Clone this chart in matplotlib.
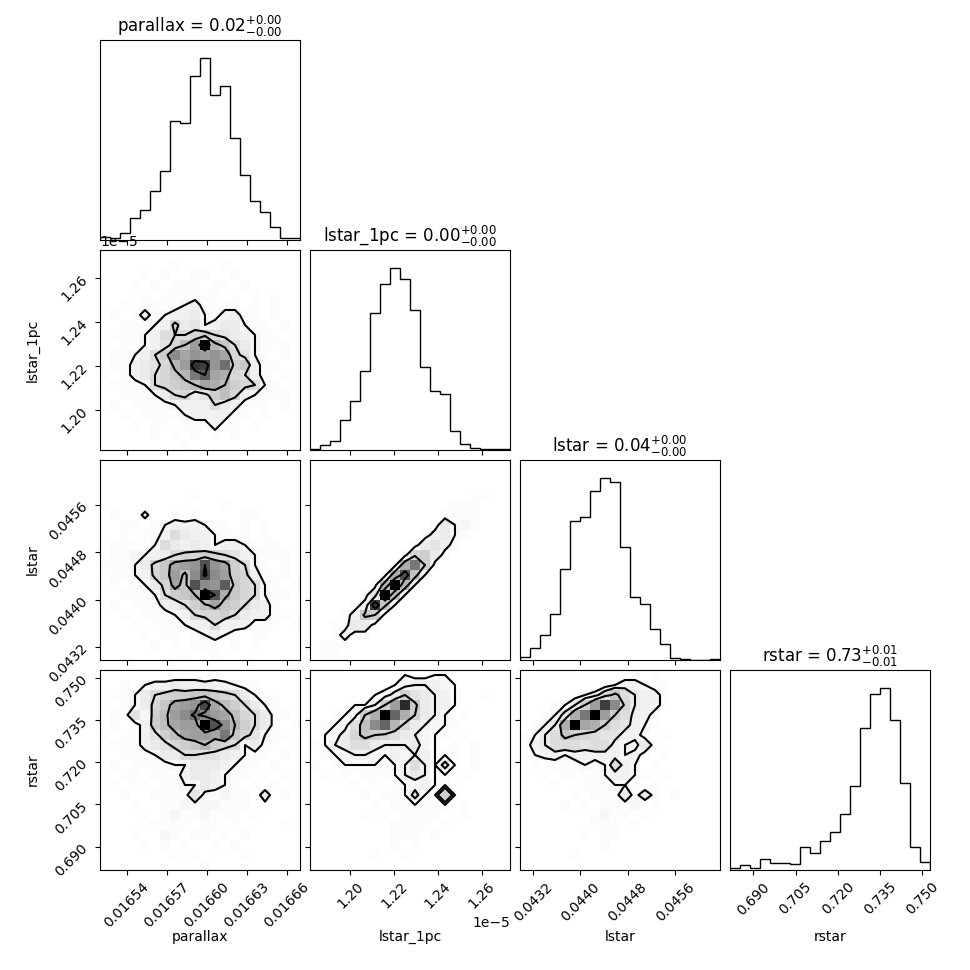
import numpy as np
import matplotlib
matplotlib.use("Agg")
import matplotlib.pyplot as plt
from matplotlib.colors import LinearSegmentedColormap, PowerNorm
from matplotlib.ticker import FixedLocator, ScalarFormatter, NullLocator

# ---------------- data ----------------
labels = ["parallax", "lstar_1pc", "lstar", "rstar"]
titles = [r"parallax = $0.02^{+0.00}_{-0.00}$",
          r"lstar_1pc = $0.00^{+0.00}_{-0.00}$",
          r"lstar = $0.04^{+0.00}_{-0.00}$",
          r"rstar = $0.73^{+0.01}_{-0.01}$"]

range_parallax = [0.01652, 0.01667]
range_lstar_1pc = [1.1817e-5, 1.2729e-5]
range_lstar = [0.04298, 0.04636]
range_rstar = [0.68172, 0.75273]

ticks_parallax = [0.01654, 0.01657, 0.01660, 0.01663, 0.01666]
ticks_lstar_1pc = [1.20e-5, 1.22e-5, 1.24e-5, 1.26e-5]
ticks_lstar = [0.0432, 0.0440, 0.0448, 0.0456]
ticks_rstar = [0.690, 0.705, 0.720, 0.735, 0.750]

# 1D histogram counts (20 bins over the axis range)
hist_parallax = [10, 5, 22, 65, 90, 147, 207, 357, 352, 492, 545, 435, 462, 305, 195, 117, 83, 38, 7, 7]
hist_lstar_1pc = [2, 15, 28, 90, 147, 238, 410, 497, 545, 512, 420, 250, 178, 168, 57, 18, 7, 2, 2, 2]
hist_lstar = [10, 35, 75, 137, 273, 418, 428, 507, 545, 535, 338, 190, 168, 93, 47, 7, 2, 1, 1, 2]
hist_rstar = [5, 14, 5, 32, 20, 20, 17, 68, 50, 86, 113, 167, 252, 425, 528, 545, 450, 260, 68, 25]

# 2D histogram counts (base-36 digits, 0..30), rows from top (high y) to bottom, columns left to right
grid_lstar_1pc_vs_parallax = [
    "00000000000000000000",
    "00000001000010000000",
    "00001010011001000000",
    "00010101110110100000",
    "00001011111101010100",
    "00101111231111010100",
    "01013123342133110100",
    "00111237452344211010",
    "01112366678654321100",
    "00112357aeub96421110",
    "0112368gdfefd7521010",
    "0113457bepofj8931100",
    "10134679bildc7631010",
    "011126789adca8762100",
    "001112467458a7321110",
    "01011112333643111010",
    "00101111233331101000",
    "00010110111311010000",
    "00000101010101000000",
    "00000000100000000000",
]

grid_lstar_vs_parallax = [
    "00000000000000000000",
    "00000000000000000000",
    "00000000000000000000",
    "00000000010000000000",
    "00000000000010000000",
    "01003001010000110000",
    "00110123332110101000",
    "00101136433211101000",
    "01111264343233211100",
    "01122346778765321110",
    "1112479defmfd8621010",
    "0112379eagnge8731110",
    "0101247d9mgfl9762101",
    "001112689bumc9762110",
    "0101113468ad98643100",
    "00101112367786433110",
    "00010111233633311101",
    "00001011012321011000",
    "00000101011101010000",
    "00000000100100000000",
]

grid_lstar_vs_lstar_1pc = [
    "00000000000000000000",
    "00000000000000000000",
    "00000000000000000000",
    "00000000000000001100",
    "00000000000000111000",
    "00000000000001111000",
    "00000000000014221000",
    "00000000000134210000",
    "00000000001453100000",
    "00000000017841000000",
    "000000001ci810000000",
    "00000001cma200000000",
    "0000001bub2000000000",
    "0000015ua20000000000",
    "000013o9200000000000",
    "00013981000000000000",
    "00114410000000000000",
    "00131100000000000000",
    "01110000000000000000",
    "01100000000000000000",
]

grid_rstar_vs_parallax = [
    "00000000110100000000",
    "00102334333332110000",
    "01124678899876421100",
    "0012479defnda8642100",
    "011528aegjgeda764110",
    "010138adeeumgb864101",
    "1011358adeedi9752110",
    "0111345789b876241100",
    "00111244665543211010",
    "01011112244432110100",
    "00110111344321101010",
    "01011011224321010100",
    "00100111151121104010",
    "00010011212211101000",
    "00001012112111010000",
    "00000111101101000010",
    "00010021011010100000",
    "00001010100101000000",
    "00000001010000100000",
    "00000000001000000000",
]

grid_rstar_vs_lstar_1pc = [
    "00000000010011000000",
    "00000000123332100000",
    "00000012485433100100",
    "00001138eq9433100000",
    "001128cukc8431010000",
    "01126agkb74321100000",
    "01247987643211010000",
    "11346643334210101000",
    "01123321323311101000",
    "10111111136314101000",
    "01010111134311010000",
    "00001010112311000000",
    "00000101114118100000",
    "00000010111111010000",
    "00000101011110010000",
    "00000000111101000000",
    "00000000111010000000",
    "00000000101000000000",
    "00000010010000000000",
    "00000000000000000000",
]

grid_rstar_vs_lstar = [
    "00000000001101000000",
    "00000000123321100000",
    "00000123696433100000",
    "0001248eog7433100000",
    "00125ciue86331000000",
    "0124cudc865321000000",
    "12469876553310100000",
    "13466656632141000000",
    "12332333332310100000",
    "01011121263201000000",
    "00101111233210100000",
    "00010011122101000000",
    "00000101114141010000",
    "00001010111201000000",
    "00000001211010000000",
    "00000001110100000000",
    "00000010110000000000",
    "00000000100000000000",
    "00000100000000000000",
    "00000000000000000000",
]

ranges = [range_parallax, range_lstar_1pc, range_lstar, range_rstar]
ticks = [ticks_parallax, ticks_lstar_1pc, ticks_lstar, ticks_rstar]
hists = [hist_parallax, hist_lstar_1pc, hist_lstar, hist_rstar]
grids = {
    (1, 0): grid_lstar_1pc_vs_parallax,
    (2, 0): grid_lstar_vs_parallax,
    (2, 1): grid_lstar_vs_lstar_1pc,
    (3, 0): grid_rstar_vs_parallax,
    (3, 1): grid_rstar_vs_lstar_1pc,
    (3, 2): grid_rstar_vs_lstar,
}

# ---------------- drawing ----------------
K = 4
nbins = 20
factor = 2.0
lbdim = 0.5 * factor
trdim = 0.2 * factor
whspace = 0.05
plotdim = factor * K + factor * (K - 1.0) * whspace
dim = lbdim + plotdim + trdim

fig, axes = plt.subplots(K, K, figsize=(dim, dim), dpi=100)
lb = lbdim / dim
tr = (lbdim + plotdim) / dim
fig.subplots_adjust(left=lb, bottom=lb, right=tr, top=tr, wspace=whspace, hspace=whspace)

shade_cmap = LinearSegmentedColormap.from_list("shade", [(1, 1, 1), (0, 0, 0)])
levels = 1.0 - np.exp(-0.5 * np.arange(0.5, 2.1, 0.5) ** 2)


def grid_to_H(grid):
    arr = np.array([[int(ch, 36) for ch in row] for row in grid], dtype=float)
    arr = arr[::-1]          # row index = y bin from bottom
    return arr.T             # H[x_bin, y_bin]


def draw_2d(ax, H, xr, yr):
    X = np.linspace(xr[0], xr[1], nbins + 1)
    Y = np.linspace(yr[0], yr[1], nbins + 1)
    Hflat = H.flatten()
    inds = np.argsort(Hflat)[::-1]
    Hflat = Hflat[inds]
    sm = np.cumsum(Hflat)
    sm /= sm[-1]
    V = np.empty(len(levels))
    for i, v0 in enumerate(levels):
        try:
            V[i] = Hflat[sm <= v0][-1]
        except IndexError:
            V[i] = Hflat[0]
    V.sort()
    m = np.diff(V) == 0
    while np.any(m):
        V[np.where(m)[0][0]] *= 1.0 - 1e-4
        m = np.diff(V) == 0
    V.sort()
    X1, Y1 = 0.5 * (X[1:] + X[:-1]), 0.5 * (Y[1:] + Y[:-1])
    H2 = H.min() + np.zeros((H.shape[0] + 4, H.shape[1] + 4))
    H2[2:-2, 2:-2] = H
    H2[2:-2, 1] = H[:, 0]
    H2[2:-2, -2] = H[:, -1]
    H2[1, 2:-2] = H[0]
    H2[-2, 2:-2] = H[-1]
    H2[1, 1] = H[0, 0]
    H2[1, -2] = H[0, -1]
    H2[-2, 1] = H[-1, 0]
    H2[-2, -2] = H[-1, -1]
    X2 = np.concatenate([X1[0] + np.array([-2, -1]) * np.diff(X1[:2]), X1,
                         X1[-1] + np.array([1, 2]) * np.diff(X1[-2:])])
    Y2 = np.concatenate([Y1[0] + np.array([-2, -1]) * np.diff(Y1[:2]), Y1,
                         Y1[-1] + np.array([1, 2]) * np.diff(Y1[-2:])])
    ax.pcolormesh(X, Y, H.T, cmap=shade_cmap,
                  norm=PowerNorm(gamma=1.25, vmin=0, vmax=H.max()))
    ax.contour(X2, Y2, H2.T, V, colors="k", linewidths=1.5)
    ax.set_xlim(xr)
    ax.set_ylim(yr)


for i in range(K):
    for j in range(K):
        ax = axes[i, j]
        if j > i:
            ax.set_frame_on(False)
            ax.set_xticks([])
            ax.set_yticks([])
            continue
        xr = ranges[j]
        if i == j:
            edges = np.linspace(xr[0], xr[1], nbins + 1)
            centers = 0.5 * (edges[1:] + edges[:-1])
            counts = np.array(hists[i], dtype=float)
            ax.hist(centers, bins=edges, weights=counts, histtype="step", color="k")
            ax.set_xlim(xr)
            ax.set_ylim(0, 1.1 * counts.max())
            ax.yaxis.set_major_locator(NullLocator())
            ax.set_title(titles[i], fontsize=12)
        else:
            H = grid_to_H(grids[(i, j)])
            draw_2d(ax, H, xr, ranges[i])
            ax.yaxis.set_major_locator(FixedLocator(ticks[i]))
            if j == 0:
                ax.yaxis.set_major_formatter(ScalarFormatter(useOffset=False))
                ax.tick_params(axis="y", labelrotation=45)
                ax.set_ylabel(labels[i])
                ax.yaxis.set_label_coords(-0.3, 0.5)
            else:
                ax.set_yticklabels([])
        ax.xaxis.set_major_locator(FixedLocator(ticks[j]))
        if i == K - 1:
            ax.xaxis.set_major_formatter(ScalarFormatter(useOffset=False))
            ax.tick_params(axis="x", labelrotation=45)
            ax.set_xlabel(labels[j])
            ax.xaxis.set_label_coords(0.5, -0.3)
        else:
            ax.set_xticklabels([])

fig.savefig("out.png", dpi=100)
